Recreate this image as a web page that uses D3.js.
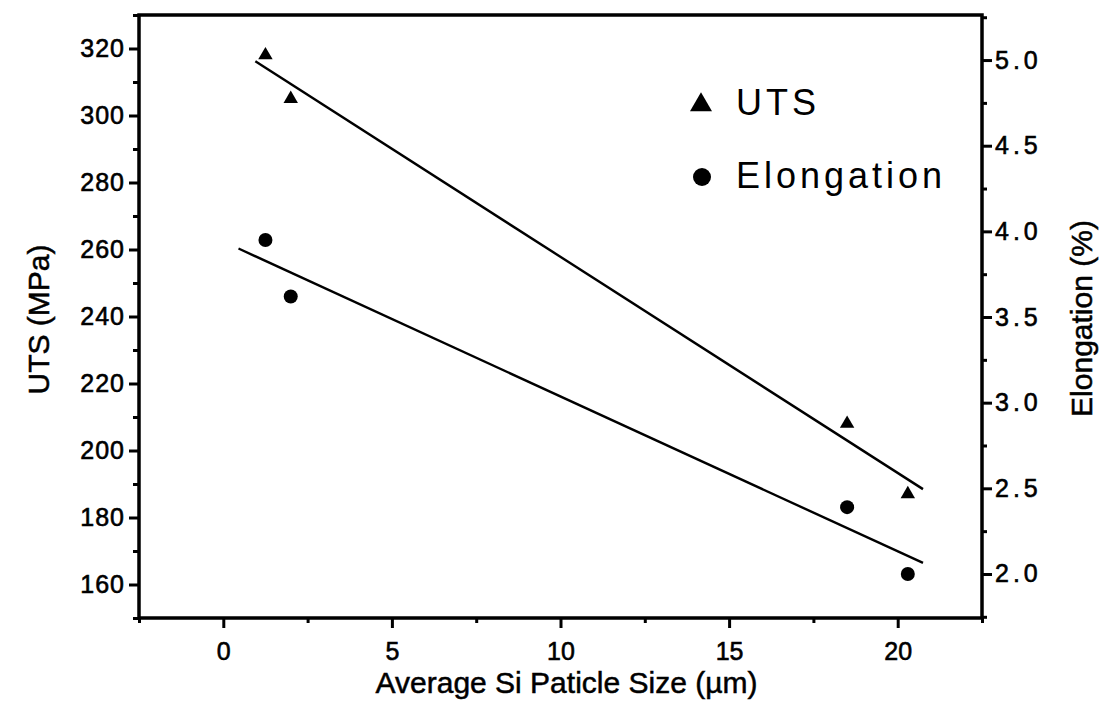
<!DOCTYPE html>
<html>
<head>
<meta charset="utf-8">
<script src="https://cdn.jsdelivr.net/npm/d3@7"></script>
<style>
  body { margin: 0; background: #ffffff; }
  svg { display: block; font-family: "Liberation Sans", Arial, sans-serif; }
</style>
</head>
<body>
<div id="wrapper"></div>
<script>
// values
const particleSizes = [1.25, 2.0, 18.5, 20.3];
const utsValues = [318, 305, 208, 187];
const elongationValues = [3.95, 3.62, 2.39, 2.0];
const utsFitRange = [0.95, 20.75];
const elongationFitRange = [0.45, 20.75];

const xTicks = [0, 5, 10, 15, 20];
const utsTicks = [160, 180, 200, 220, 240, 260, 280, 300, 320];
const elongationTicks = [2.0, 2.5, 3.0, 3.5, 4.0, 4.5, 5.0];
const legendLabels = ["UTS", "Elongation"];

function drawChart() {
    let dimensions = {
        width: 1110,
        height: 702,
        margin: { top: 15, right: 128, bottom: 84, left: 139 }
    };
    dimensions.boundedWidth = dimensions.width - dimensions.margin.left - dimensions.margin.right;
    dimensions.boundedHeight = dimensions.height - dimensions.margin.top - dimensions.margin.bottom;

    const wrapper = d3.select("#wrapper")
        .append("svg")
        .attr("width", dimensions.width)
        .attr("height", dimensions.height)
        .style("background", "#ffffff");

    const bounds = wrapper.append("g")
        .attr("transform", `translate(${dimensions.margin.left},${dimensions.margin.top})`);

    const xScale = d3.scaleLinear()
        .domain([-2.5, 22.5])
        .range([0, dimensions.boundedWidth]);

    const utsScale = d3.scaleLinear()
        .domain([150, 330])
        .range([dimensions.boundedHeight, 0]);

    const elongScale = d3.scaleLinear()
        .domain([1.743, 5.263])
        .range([dimensions.boundedHeight, 0]);

    const mids = (ticks, step) => ticks.map(t => t - step / 2).concat([ticks[ticks.length - 1] + step / 2]);

    // frame
    bounds.append("rect")
        .attr("width", dimensions.boundedWidth)
        .attr("height", dimensions.boundedHeight)
        .attr("fill", "none")
        .attr("stroke", "#000")
        .attr("stroke-width", 3.5);

    const styleAxis = g => {
        g.select(".domain").remove();
        g.selectAll("line").attr("stroke", "#000").attr("stroke-width", 3);
        g.selectAll("text")
            .attr("fill", "#000")
            .attr("stroke", "#000")
            .attr("stroke-width", 0.6);
    };

    // bottom axis
    const xAxis = bounds.append("g")
        .attr("transform", `translate(0,${dimensions.boundedHeight})`)
        .call(d3.axisBottom(xScale).tickValues(xTicks).tickSize(10).tickPadding(14).tickFormat(d3.format("d")))
        .call(styleAxis);
    xAxis.selectAll("text").style("font-size", "25px");
    bounds.append("g")
        .attr("transform", `translate(0,${dimensions.boundedHeight})`)
        .call(d3.axisBottom(xScale).tickValues([-2.5].concat(mids(xTicks, 5))).tickSize(5).tickFormat(""))
        .call(styleAxis);

    // left axis
    const yAxis = bounds.append("g")
        .call(d3.axisLeft(utsScale).tickValues(utsTicks).tickSize(10).tickPadding(4).tickFormat(d3.format("d")))
        .call(styleAxis);
    yAxis.selectAll("text").style("font-size", "25px").style("letter-spacing", "1px");
    bounds.append("g")
        .call(d3.axisLeft(utsScale).tickValues([150].concat(mids(utsTicks, 20))).tickSize(6).tickFormat(""))
        .call(styleAxis);

    // right axis
    const rAxis = bounds.append("g")
        .attr("transform", `translate(${dimensions.boundedWidth},0)`)
        .call(d3.axisRight(elongScale).tickValues(elongationTicks).tickSize(10).tickPadding(3).tickFormat(d3.format(".1f")))
        .call(styleAxis);
    rAxis.selectAll("text").style("font-size", "25px").style("letter-spacing", "4px");
    bounds.append("g")
        .attr("transform", `translate(${dimensions.boundedWidth},0)`)
        .call(d3.axisRight(elongScale).tickValues(mids(elongationTicks, 0.5)).tickSize(5).tickFormat(""))
        .call(styleAxis);

    // axis titles
    const titleStyle = sel => sel
        .attr("text-anchor", "middle")
        .attr("fill", "#000")
        .attr("stroke", "#000")
        .attr("stroke-width", 0.5)
        .style("font-size", "30px");

    wrapper.append("text")
        .attr("x", dimensions.margin.left + dimensions.boundedWidth / 2 + 6)
        .attr("y", 693)
        .call(titleStyle)
        .text("Average Si Paticle Size (\u00b5m)");

    wrapper.append("text")
        .attr("transform", `translate(49,${dimensions.margin.top + dimensions.boundedHeight / 2 + 3}) rotate(-90)`)
        .call(titleStyle)
        .text("UTS (MPa)");

    wrapper.append("text")
        .attr("transform", `translate(1092,${dimensions.margin.top + dimensions.boundedHeight / 2 + 2}) rotate(-90)`)
        .call(titleStyle)
        .text("Elongation (%)");

    // fit lines (least squares through the points)
    const fit = (xs, ys) => {
        const mx = d3.mean(xs), my = d3.mean(ys);
        const sxy = d3.sum(xs, (x, i) => (x - mx) * (ys[i] - my));
        const sxx = d3.sum(xs, x => (x - mx) ** 2);
        const slope = sxy / sxx;
        return x => my + slope * (x - mx);
    };
    const utsFit = fit(particleSizes, utsValues);
    const elongFit = fit(particleSizes, elongationValues);

    bounds.append("path")
        .datum(utsFitRange)
        .attr("fill", "none")
        .attr("stroke", "#000")
        .attr("stroke-width", 2.4)
        .attr("d", d3.line().x(d => xScale(d)).y(d => utsScale(utsFit(d))));

    bounds.append("path")
        .datum(elongationFitRange)
        .attr("fill", "none")
        .attr("stroke", "#000")
        .attr("stroke-width", 2.4)
        .attr("d", d3.line().x(d => xScale(d)).y(d => elongScale(elongFit(d))));

    // points
    const triangle = d3.symbol().type(d3.symbolTriangle).size(90);
    bounds.selectAll(".uts")
        .data(particleSizes)
        .join("path")
        .attr("class", "uts")
        .attr("transform", (d, i) => `translate(${xScale(d)},${utsScale(utsValues[i])})`)
        .attr("d", triangle)
        .attr("fill", "#000");

    bounds.selectAll(".elong")
        .data(particleSizes)
        .join("circle")
        .attr("class", "elong")
        .attr("cx", d => xScale(d))
        .attr("cy", (d, i) => elongScale(elongationValues[i]))
        .attr("r", 7)
        .attr("fill", "#000");

    // legend
    const legend = wrapper.append("g")
        .attr("transform", "translate(701,0)");
    legend.append("path")
        .attr("transform", "translate(0,105)")
        .attr("d", d3.symbol().type(d3.symbolTriangle).size(210))
        .attr("fill", "#000");
    legend.append("circle")
        .attr("cx", 1)
        .attr("cy", 177)
        .attr("r", 9)
        .attr("fill", "#000");
    legend.selectAll(".legend-label")
        .data(legendLabels)
        .join("text")
        .attr("class", "legend-label")
        .attr("x", 35)
        .attr("y", (d, i) => 115 + i * 73)
        .style("font-size", "36px")
        .style("letter-spacing", "4px")
        .text(d => d);
}
drawChart();
</script>
</body>
</html>
